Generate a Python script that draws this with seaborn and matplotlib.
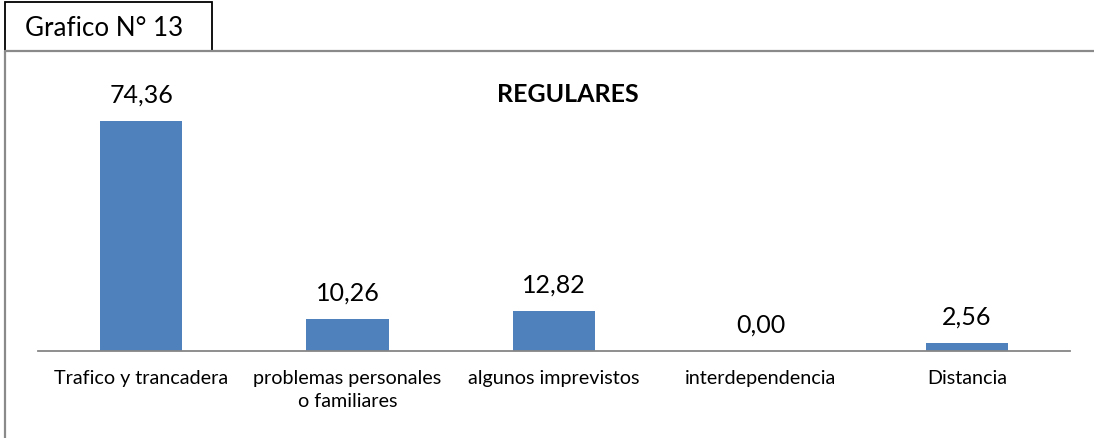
import matplotlib
matplotlib.use("Agg")
import matplotlib.pyplot as plt
import seaborn as sns
import pandas as pd
from matplotlib.lines import Line2D
from matplotlib.patches import Rectangle

categories = ["Trafico y trancadera", "problemas personales\no familiares",
              "algunos imprevistos", "interdependencia", "Distancia"]
values = [74.36, 10.26, 12.82, 0.00, 2.56]
title = "REGULARES"
box_text = "Grafico N° 13"

sns.set_theme(style="white")
plt.rcParams['font.family'] = ['Lato', 'DejaVu Sans']

W, H = 1094, 439
fig = plt.figure(figsize=(W / 100, H / 100), dpi=100)

def fx(px):
    return px / W

def fy(py):
    return 1 - py / H

ymax = 80
scale = 230 / 74.36
ax_bottom_px = 352
ax_top_px = ax_bottom_px - ymax * scale
ax = fig.add_axes([fx(38), fy(ax_bottom_px), fx(1070) - fx(38), (ax_bottom_px - ax_top_px) / H])

df = pd.DataFrame({"cat": categories, "val": values})
sns.barplot(data=df, x="cat", y="val", color="#4F81BD", width=0.40, ax=ax,
            saturation=1, edgecolor="none")
ax.set_ylim(0, ymax)
ax.set_xlim(-0.5, len(categories) - 0.5)
for s in ["top", "left", "right"]:
    ax.spines[s].set_visible(False)
ax.spines["bottom"].set_color("#868686")
ax.spines["bottom"].set_linewidth(1.3)
ax.set_yticks([])
ax.set_xlabel("")
ax.set_ylabel("")
ax.tick_params(axis="x", length=0, pad=13, labelsize=14.2, colors="black")
for t in ax.get_xticklabels():
    t.set_linespacing(1.45)

labels = [f"{v:.2f}".replace(".", ",") for v in values]
ax.bar_label(ax.containers[0], labels=labels, padding=11, fontsize=18, color="black")

fig.text(fx(568), fy(95), title, ha="center", va="center", fontsize=18,
         fontweight="bold", color="black")

# outer frame
fig.add_artist(Line2D([fx(5), fx(1094)], [fy(52), fy(52)], color="#8A8A8A", lw=1.6))
fig.add_artist(Line2D([fx(5), fx(5)], [fy(52), fy(439)], color="#8A8A8A", lw=1.6))

# label box
fig.add_artist(Rectangle((fx(5), fy(52)), fx(212) - fx(5), fy(3) - fy(52),
                         transform=fig.transFigure, facecolor="white",
                         edgecolor="black", lw=1.3))
fig.text(fx(25), fy(29), box_text, ha="left", va="center", fontsize=18.7, color="black")

fig.savefig("out.png", dpi=100)
